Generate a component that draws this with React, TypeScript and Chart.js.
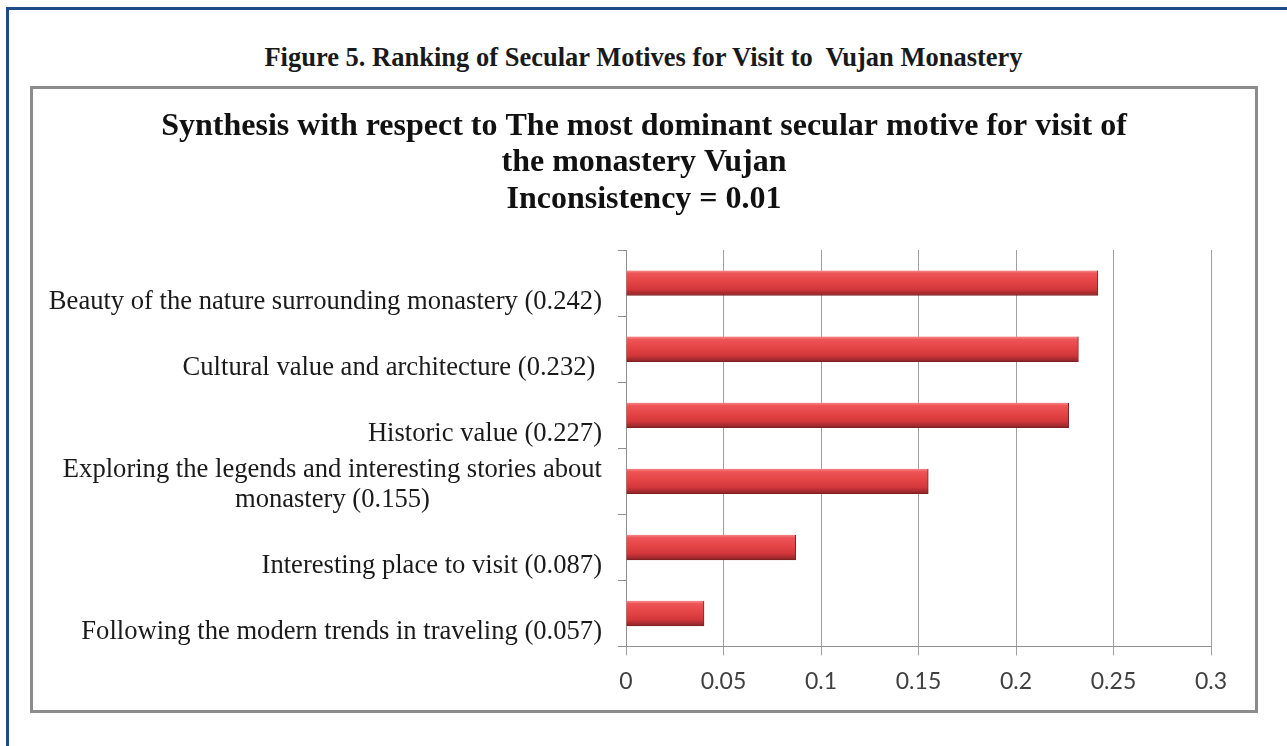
import React, { useEffect, useRef } from 'react';
import { Chart, registerables } from 'chart.js';

Chart.register(...registerables);

const figureCaption = 'Figure 5. Ranking of Secular Motives for Visit to  Vujan Monastery';
const chartTitle = [
  'Synthesis with respect to The most dominant secular motive for visit of',
  'the monastery Vujan',
  'Inconsistency = 0.01',
];
const categories: (string | string[])[] = [
  'Beauty of the nature surrounding monastery (0.242)',
  'Cultural value and architecture (0.232) ',
  'Historic value (0.227)',
  ['Exploring the legends and interesting stories about', 'monastery (0.155)'],
  'Interesting place to visit (0.087)',
  'Following the modern trends in traveling (0.057)',
];
const values = [0.242, 0.232, 0.227, 0.155, 0.087, 0.04];
const xTickValues = [0, 0.05, 0.1, 0.15, 0.2, 0.25, 0.3];
const xTickLabels = ['0', '0.05', '0.1', '0.15', '0.2', '0.25', '0.3'];

const BAR_THICKNESS = 25;

const titlePlugin = {
  id: 'centerTitle',
  afterDraw(chart: any) {
    const ctx = chart.ctx;
    ctx.save();
    ctx.font = 'bold 32px "Liberation Serif"';
    ctx.fillStyle = '#111111';
    ctx.textAlign = 'center';
    ctx.textBaseline = 'middle';
    const cx = chart.width / 2;
    chartTitle.forEach((line, i) => {
      ctx.fillText(line, cx, 37.5 + i * 36.7);
    });
    ctx.restore();
  },
};

// Labels sit in a two-line slot; single-line labels take the lower line.
const yLabelPlugin = {
  id: 'yLabels',
  afterDraw(chart: any) {
    const ctx = chart.ctx;
    const ys = chart.scales.y;
    ctx.save();
    ctx.font = '26.6px "Liberation Serif"';
    ctx.fillStyle = '#1a1a1a';
    ctx.textBaseline = 'middle';
    ctx.textAlign = 'center';
    const right = ys.left - 16;
    const lh = 30.6;
    (chart.data.labels as (string | string[])[]).forEach((lab, i) => {
      const lines = Array.isArray(lab) ? lab : [lab];
      const yc = ys.getPixelForTick(i);
      const maxW = Math.max(...lines.map((l) => ctx.measureText(l).width));
      const n = lines.length;
      lines.forEach((l, j) => {
        const y = yc + 19 - (n - 1 - j) * lh;
        ctx.fillText(l, right - maxW / 2, y);
      });
    });
    ctx.restore();
  },
};

function barGradient(c: any) {
  const chart = c.chart;
  const ys = chart.scales && chart.scales.y;
  if (!chart.chartArea || !ys || c.dataIndex === undefined) return '#dc3a3d';
  const yc = ys.getPixelForValue(c.dataIndex);
  const top = yc - BAR_THICKNESS / 2;
  const bot = yc + BAR_THICKNESS / 2;
  const g = chart.ctx.createLinearGradient(0, top, 0, bot);
  g.addColorStop(0, '#f58a8a');
  g.addColorStop(0.12, '#ee5456');
  g.addColorStop(0.45, '#e44446');
  g.addColorStop(0.75, '#d2373b');
  g.addColorStop(1, '#8c2427');
  return g;
}

export default function App() {
  const canvasRef = useRef<HTMLCanvasElement | null>(null);

  useEffect(() => {
    if (!canvasRef.current) return;
    const chart = new Chart(canvasRef.current, {
      type: 'bar',
      data: {
        labels: categories as any,
        datasets: [
          {
            data: values,
            backgroundColor: barGradient as any,
            borderColor: '#7e2023',
            borderWidth: { top: 0, right: 1, bottom: 1, left: 0 } as any,
            borderSkipped: false as any,
            barThickness: BAR_THICKNESS,
          },
        ],
      },
      options: {
        indexAxis: 'y',
        animation: false,
        responsive: false,
        maintainAspectRatio: false,
        layout: { padding: { left: 585, right: 44, top: 161, bottom: 3 } },
        plugins: {
          legend: { display: false },
          tooltip: { enabled: false },
          title: { display: false },
        },
        scales: {
          x: {
            type: 'linear',
            min: 0,
            max: 0.3,
            afterBuildTicks: (s: any) => {
              s.ticks = xTickValues.map((v) => ({ value: v }));
            },
            ticks: {
              color: '#404040',
              font: { family: 'Lato', size: 23 },
              padding: 12,
              callback: (_v: any, i: number) => xTickLabels[i],
            },
            grid: { color: '#a0a0a0', lineWidth: 1, tickLength: 9, drawTicks: true },
            border: { color: '#8f8f8f', width: 1 },
          },
          y: {
            type: 'category',
            offset: true,
            ticks: { display: false },
            grid: {
              offset: true,
              drawOnChartArea: false,
              drawTicks: true,
              tickLength: 8,
              color: '#8f8f8f',
            },
            border: { color: '#8f8f8f', width: 1 },
          },
        },
      },
      plugins: [titlePlugin, yLabelPlugin],
    } as any);
    return () => chart.destroy();
  }, []);

  return (
    <div style={{ position: 'fixed', inset: 0, overflow: 'hidden', background: '#ffffff' }}>
      <div
        style={{
          position: 'absolute',
          left: 6,
          top: 7,
          width: 1320,
          height: 780,
          borderTop: '3px solid #1d4c88',
          borderLeft: '3px solid #1d4c88',
          boxSizing: 'border-box',
        }}
      />
      <div
        style={{
          position: 'absolute',
          left: 0,
          top: 42,
          width: 1287,
          lineHeight: '30px',
          textAlign: 'center',
          fontFamily: '"Liberation Serif", serif',
          fontWeight: 'bold',
          fontSize: 26.5,
          color: '#1a1a1a',
          whiteSpace: 'pre',
        }}
      >
        {figureCaption}
      </div>
      <div
        style={{
          position: 'absolute',
          left: 30,
          top: 86,
          width: 1228,
          height: 627,
          border: '3px solid #8c8c8c',
          boxSizing: 'border-box',
          background: '#ffffff',
        }}
      >
        <canvas
          ref={canvasRef}
          width={1222}
          height={621}
          style={{ display: 'block', width: 1222, height: 621 }}
        />
      </div>
    </div>
  );
}
